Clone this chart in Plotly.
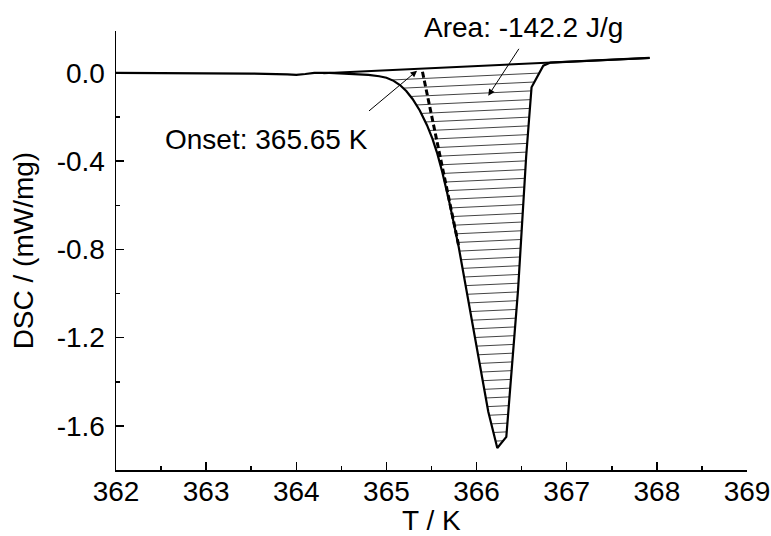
import numpy as np
import plotly.graph_objects as go

# DSC curve (T in K, DSC in mW/mg)
T = [362.0, 362.5, 363.0, 363.5, 363.9, 364.0, 364.1, 364.2, 364.37, 364.6, 364.8,
     364.92, 365.0, 365.08, 365.15, 365.22, 365.29, 365.37, 365.45, 365.51, 365.56,
     365.62, 365.70, 365.80, 365.91, 366.02, 366.13, 366.23, 366.33, 366.46, 366.55,
     366.61, 366.67, 366.74, 366.82, 367.0, 367.5, 367.92]
DSC = [0.000, 0.000, -0.001, -0.003, -0.007, -0.009, -0.005, 0.000, 0.000, -0.003, -0.009,
       -0.015, -0.022, -0.036, -0.055, -0.082, -0.118, -0.170, -0.237, -0.298, -0.360,
       -0.450, -0.590, -0.785, -1.030, -1.280, -1.536, -1.700, -1.650, -0.985, -0.380,
       -0.065, -0.020, 0.033, 0.047, 0.0504, 0.0599, 0.068]

# integration baseline
BASE_T = [364.30, 367.92]
BASE_V = [-0.001, 0.068]

# onset tangent (dashed)
TAN_T = [365.40, 365.80]
TAN_V = [0.005, -0.78]

# annotation arrows: (head_T, head_V, tail_T, tail_V)
ONSET_ARROW = (365.34, 0.010, 364.79, -0.178)
AREA_ARROW = (366.13, -0.103, 366.48, 0.116)

ONSET_TEXT = "Onset: 365.65 K"
AREA_TEXT = "Area: -142.2 J/g"
X_TITLE = "T / K"
Y_TITLE = "DSC / (mW/mg)"

X_TICKS = [362, 363, 364, 365, 366, 367, 368, 369]
Y_TICKS = [-1.6, -1.2, -0.8, -0.4, 0.0]
Y_TICKTEXT = ["-1.6", "-1.2", "-0.8", "-0.4", "0.0"]

FONT = "Liberation Sans, Arial, sans-serif"

# hatch lines parallel to the baseline, clipped between curve and baseline
Tg = np.linspace(364.3, 366.9, 4000)
cg = np.interp(Tg, T, DSC)
bg = np.interp(Tg, BASE_T, BASE_V)
hx, hy = [], []
spacing = 0.0395
off = spacing * 1.15
while True:
    line = bg - off
    mask = cg < line
    if not mask.any():
        break
    idx = np.where(mask)[0]
    splits = np.where(np.diff(idx) > 1)[0]
    starts = np.concatenate([[idx[0]], idx[splits + 1]])
    ends = np.concatenate([idx[splits], [idx[-1]]])
    for s, e in zip(starts, ends):
        hx += [Tg[s], Tg[e], None]
        hy += [line[s], line[e], None]
    off += spacing

fig = go.Figure()
fig.add_trace(go.Scatter(x=hx, y=hy, mode="lines",
                         line=dict(color="#444444", width=1), hoverinfo="skip"))
fig.add_trace(go.Scatter(x=BASE_T, y=BASE_V, mode="lines",
                         line=dict(color="black", width=2)))
fig.add_trace(go.Scatter(x=T, y=DSC, mode="lines",
                         line=dict(color="black", width=2.2)))
fig.add_trace(go.Scatter(x=TAN_T, y=TAN_V, mode="lines",
                         line=dict(color="black", width=3, dash="6px,3px")))

for hxv, hyv, txv, tyv in (ONSET_ARROW, AREA_ARROW):
    fig.add_annotation(x=hxv, y=hyv, ax=txv, ay=tyv, xref="x", yref="y",
                       axref="x", ayref="y", text="", showarrow=True,
                       arrowhead=2, arrowsize=1.3, arrowwidth=1, arrowcolor="black",
                       standoff=0, startstandoff=0)

fig.add_annotation(x=363.67, y=-0.302, xref="x", yref="y", text=ONSET_TEXT,
                   xanchor="center", yanchor="middle",
                   showarrow=False, font=dict(family=FONT, size=28, color="black"))
fig.add_annotation(x=366.515, y=1.009, xref="x", yref="paper", text=AREA_TEXT,
                   xanchor="center", yanchor="middle",
                   showarrow=False, font=dict(family=FONT, size=28, color="black"))
# axis titles
fig.add_annotation(x=0.5, y=-0.116, xref="paper", yref="paper", text=X_TITLE,
                   xanchor="center", yanchor="middle",
                   showarrow=False, font=dict(family=FONT, size=28, color="black"))
fig.add_annotation(x=-0.146, y=0.5, xref="paper", yref="paper", text=Y_TITLE,
                   xanchor="center", yanchor="middle",
                   textangle=-90, showarrow=False,
                   font=dict(family=FONT, size=28, color="black"))

axis_common = dict(showline=True, linecolor="black", linewidth=1.5, showgrid=False,
                   zeroline=False, ticks="inside", ticklen=8, tickwidth=1.5,
                   tickcolor="black", mirror=False, automargin=False,
                   tickfont=dict(family=FONT, size=28, color="black"))

fig.update_layout(
    width=771, height=536,
    margin=dict(l=116, r=24, t=31, b=66),
    paper_bgcolor="white", plot_bgcolor="white",
    showlegend=False,
    xaxis=dict(range=[362, 369], tickmode="array", tickvals=X_TICKS,
               ticktext=[str(v) for v in X_TICKS], ticklabelstandoff=-4,
               minor=dict(tickmode="array",
                          tickvals=[v + 0.5 for v in X_TICKS[:-1]],
                          ticks="inside", ticklen=4, tickwidth=1.5, tickcolor="black"),
               **axis_common),
    yaxis=dict(range=[-1.8, 0.19], tickmode="array", tickvals=Y_TICKS,
               ticktext=Y_TICKTEXT, ticklabelstandoff=4,
               minor=dict(tickmode="array", tickvals=[-1.4, -1.0, -0.6, -0.2],
                          ticks="inside", ticklen=4, tickwidth=1.5, tickcolor="black"),
               **axis_common),
)

fig.write_html(
    "out.html",
    config={"displayModeBar": False, "staticPlot": True},
    post_script="document.body.style.margin='0';"
                "document.documentElement.style.overflow='hidden';",
)
